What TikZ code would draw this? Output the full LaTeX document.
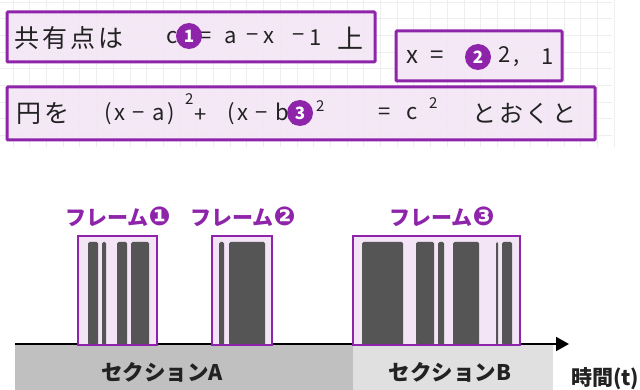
\documentclass[tikz,border=0pt]{standalone}
\usepackage{fontspec}
\newfontfamily\jp{Noto Sans CJK JP}
\newfontfamily\jpw[LetterSpace=12]{Noto Sans CJK JP}
\newfontfamily\dv{DejaVu Sans}
\usetikzlibrary{arrows.meta}
\definecolor{pur}{HTML}{8E24AA}
\definecolor{lav}{HTML}{F3E5F5}
\definecolor{barc}{HTML}{555555}
\definecolor{secA}{HTML}{C0C0C0}
\definecolor{secB}{HTML}{E0E0E0}
\definecolor{gridc}{HTML}{EEEEEE}
\definecolor{ink}{HTML}{222222}
\begin{document}
\begin{tikzpicture}[x=1pt,y=-1pt,
  notebox/.style={draw=pur,line width=3pt,fill=lav,fill opacity=0.85,rounded corners=1pt},
  hand/.style={font=\jpw\fontsize{22}{24}\selectfont,text=ink,inner sep=0pt,anchor=west},
  small2/.style={hand,font=\jp\fontsize{15}{17}\selectfont},
  badge/.style={circle,fill=pur,text=white,inner sep=0pt,minimum size=26pt,font=\jp\bfseries\fontsize{17}{17}\selectfont},
  framebox/.style={draw=pur,line width=2pt},
  framefill/.style={fill=lav},
  barbox/.style={fill=barc,rounded corners=1.5pt},
  flabel/.style={font=\jp\bfseries\fontsize{21}{22}\selectfont,text=pur,inner sep=0pt},
  seclabel/.style={font=\jp\bfseries\fontsize{21.5}{23}\selectfont,text=ink,inner sep=0pt}
]
\useasboundingbox (0,0) rectangle (640,390);
\fill[white] (0,0) rectangle (640,390);
% grid background of the note
\foreach \i in {0,...,36} \draw[gridc,line width=0.8pt] (\i*16.7+13,0) -- (\i*16.7+13,147);
\foreach \j in {0,...,8} \draw[gridc,line width=0.8pt] (0,\j*16.7+2) -- (612,\j*16.7+2);
% note boxes
\draw[notebox] (7,12) rectangle (375,62);
\draw[notebox] (396,31) rectangle (562,81);
\draw[notebox] (7,87) rectangle (595,140);
% handwritten texts, row 1
\node[hand,font=\jpw\fontsize{25}{27}\selectfont] (t1a) at (14,38) {共有点は};
\node[hand] (t1b) at (166,38) {c};
\node[hand] (t1c) at (199,38) {=};
\node[hand] (t1d) at (224,38) {a};
\node[hand] (t1e) at (246,38) {−};
\node[hand] (t1f) at (263,38) {x};
\node[hand] (t1g) at (292,38) {−};
\node[hand] (t1h) at (309,38) {1};
\node[hand,font=\jp\fontsize{26}{28}\selectfont] (t1i) at (337,38) {上};
% row 2
\node[hand,font=\jp\fontsize{24}{26}\selectfont] (t2a) at (406,57) {x};
\node[hand,font=\jp\fontsize{24}{26}\selectfont] (t2b) at (430,57) {=};
\node[hand] (t2c) at (498,57) {2,};
\node[hand] (t2d) at (541,57) {1};
% row 3
\node[hand,font=\jpw\fontsize{25}{27}\selectfont] (t3a) at (16,114) {円を};
\node[hand] (t3b) at (104,114) {(x − a)};
\node[small2] (t3c) at (185,99) {2};
\node[hand] (t3d) at (194,116) {+};
\node[hand] (t3e) at (227,114) {(x − b)};
\node[small2] (t3f) at (316,106) {2};
\node[hand] (t3g) at (378,114) {=};
\node[hand] (t3h) at (406,114) {c};
\node[small2] (t3i) at (429,103) {2};
\node[hand,font=\jpw\fontsize{24}{26}\selectfont] (t3j) at (472,114) {とおくと};
% badges
\node[badge] (b1) at (189,36) {1};
\node[badge] (b2) at (478,57) {2};
\node[badge] (b3) at (300,113) {3};
% sections
\fill[secA] (15,345) rectangle (353,390);
\fill[secB] (353,345) rectangle (553,390);
\node[seclabel] (sa) at (162,372) {セクションA};
\node[seclabel] (sb) at (450,372) {セクションB};
% axis
\coordinate (ax0) at (15,344);
\coordinate (ax1) at (569,344);
\draw[line width=2pt,-{Triangle[length=13pt,width=14pt]}] (ax0) -- (ax1);
\node[font=\jp\bfseries\fontsize{21}{23}\selectfont,text=ink,anchor=west,inner sep=0pt] (tl) at (571,379) {時間(t)};
% frame 1
\fill[framefill] (78,236) rectangle (157,345);
\fill[barbox] (88,242) rectangle (98,345);
\fill[barbox] (102,242) rectangle (106,345);
\fill[barbox] (117,242) rectangle (127,345);
\fill[barbox] (131,242) rectangle (149,345);
\draw[framebox] (78,236) rectangle (157,345);
% frame 2
\fill[framefill] (212,236) rectangle (272,345);
\fill[barbox] (219,242) rectangle (224,345);
\fill[barbox] (229,242) rectangle (265,345);
\draw[framebox] (212,236) rectangle (272,345);
% frame 3
\fill[framefill] (353,236) rectangle (520,345);
\fill[barbox] (362,242) rectangle (403,345);
\fill[barbox] (416,242) rectangle (434,345);
\fill[barbox] (438,242) rectangle (444,345);
\fill[barbox] (453,242) rectangle (479,345);
\fill[barbox] (496,242) rectangle (498,345);
\fill[barbox] (502,242) rectangle (512,345);
\draw[framebox] (353,236) rectangle (520,345);
% frame labels
\node[flabel] (l1) at (118,217) {フレーム{\dv\fontsize{26}{26}\selectfont ❶}};
\node[flabel] (l2) at (243,217) {フレーム{\dv\fontsize{26}{26}\selectfont ❷}};
\node[flabel] (l3) at (442,217) {フレーム{\dv\fontsize{26}{26}\selectfont ❸}};
\end{tikzpicture}
\end{document}
